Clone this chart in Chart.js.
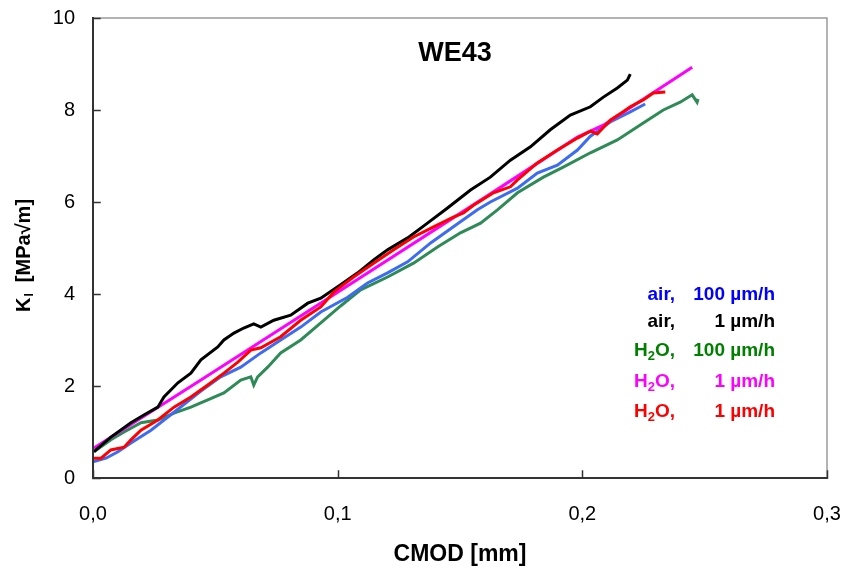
<!DOCTYPE html>
<html>
<head>
<meta charset="utf-8">
<script src="https://cdn.jsdelivr.net/npm/chart.js@4.4.0/dist/chart.umd.min.js"></script>
<style>
  html, body { margin: 0; padding: 0; background: #fff; }
  #wrap { width: 845px; height: 568px; position: relative; }
</style>
</head>
<body>
<div id="wrap"><canvas id="c"></canvas></div>
<script>
// CMOD [mm] vs K_I [MPa*sqrt(m)]
const blueX = [0.0, 0.0053, 0.0102, 0.0155, 0.0237, 0.0331, 0.0441, 0.0522, 0.0604, 0.0686, 0.0767, 0.0849, 0.0931, 0.1041, 0.1122, 0.1204, 0.1286, 0.138, 0.1473, 0.1571, 0.1624, 0.1735, 0.1816, 0.1898, 0.198, 0.2033, 0.2114, 0.2196, 0.2257];
const blueY = [0.35, 0.43, 0.57, 0.76, 1.04, 1.43, 1.89, 2.20, 2.41, 2.72, 3.0, 3.28, 3.61, 3.93, 4.24, 4.46, 4.70, 5.11, 5.46, 5.83, 6.0, 6.30, 6.63, 6.80, 7.13, 7.43, 7.74, 7.96, 8.13];

const blackX = [0.0004, 0.0012, 0.0073, 0.0155, 0.0208, 0.0265, 0.029, 0.0347, 0.040, 0.0441, 0.051, 0.0535, 0.0576, 0.0616, 0.0657, 0.0686, 0.0739, 0.0808, 0.0878, 0.0931, 0.1012, 0.1082, 0.1147, 0.1204, 0.1286, 0.1367, 0.1449, 0.1543, 0.1624, 0.1706, 0.1788, 0.1869, 0.1951, 0.2033, 0.2086, 0.2143, 0.2184, 0.2196];
const blackY = [0.57, 0.61, 0.89, 1.20, 1.37, 1.54, 1.76, 2.07, 2.28, 2.57, 2.85, 3.0, 3.15, 3.26, 3.35, 3.28, 3.43, 3.54, 3.80, 3.91, 4.20, 4.46, 4.74, 4.96, 5.22, 5.54, 5.87, 6.26, 6.54, 6.91, 7.20, 7.57, 7.89, 8.07, 8.28, 8.48, 8.65, 8.78];

const greenX = [0.0004, 0.0073, 0.0127, 0.0196, 0.0265, 0.0331, 0.040, 0.0469, 0.0535, 0.0604, 0.0645, 0.0657, 0.0673, 0.0714, 0.0767, 0.0849, 0.0931, 0.1012, 0.1094, 0.1204, 0.131, 0.1408, 0.1502, 0.1584, 0.1653, 0.1735, 0.1841, 0.1922, 0.2033, 0.2143, 0.2249, 0.2331, 0.24, 0.2449, 0.2469, 0.2473];
const greenY = [0.57, 0.83, 1.00, 1.20, 1.26, 1.41, 1.54, 1.70, 1.85, 2.13, 2.20, 2.02, 2.20, 2.41, 2.72, 3.0, 3.37, 3.74, 4.09, 4.37, 4.67, 5.02, 5.33, 5.54, 5.83, 6.20, 6.54, 6.76, 7.07, 7.35, 7.72, 8.0, 8.17, 8.33, 8.17, 8.24];

const magentaX = [0.0004, 0.0441, 0.1, 0.1637, 0.198, 0.2086, 0.2449];
const magentaY = [0.65, 2.13, 4.04, 6.22, 7.41, 7.67, 8.93];

const redX = [0.0004, 0.0033, 0.0073, 0.0127, 0.0155, 0.0196, 0.0265, 0.0331, 0.04, 0.0469, 0.0535, 0.0592, 0.0633, 0.0645, 0.0686, 0.0767, 0.0849, 0.0931, 0.0984, 0.1065, 0.1147, 0.1229, 0.131, 0.1392, 0.1473, 0.1514, 0.1555, 0.1637, 0.1706, 0.1735, 0.1816, 0.1898, 0.198, 0.2033, 0.2061, 0.2114, 0.2167, 0.2196, 0.2249, 0.229, 0.2339];
const redY = [0.43, 0.43, 0.61, 0.67, 0.83, 1.04, 1.26, 1.54, 1.76, 2.02, 2.28, 2.52, 2.72, 2.78, 2.83, 3.07, 3.43, 3.72, 4.04, 4.37, 4.67, 4.96, 5.24, 5.46, 5.67, 5.76, 5.93, 6.20, 6.33, 6.48, 6.85, 7.13, 7.39, 7.54, 7.48, 7.78, 7.96, 8.07, 8.22, 8.37, 8.39];

const xTicks = [0, 0.1, 0.2, 0.3];
const yTicks = [0, 2, 4, 6, 8, 10];

const FONT = "'Liberation Sans', Arial, sans-serif";

function pts(xs, ys) {
  return xs.map((x, i) => ({ x: x, y: ys[i] }));
}

function line(label, xs, ys, color) {
  return {
    label: label,
    data: pts(xs, ys),
    borderColor: color,
    backgroundColor: color,
    borderWidth: 3,
    pointRadius: 0,
    showLine: true,
    tension: 0,
    fill: false
  };
}

// frame, tick labels, titles and legend text, drawn after the chart
const extras = {
  id: 'extras',
  afterDraw(chart) {
    const ctx = chart.ctx;
    const a = chart.chartArea;
    const xs = chart.scales.x, ys = chart.scales.y;
    ctx.save();

    // frame
    ctx.lineCap = 'square';
    ctx.strokeStyle = '#9a9a9a';
    ctx.lineWidth = 1.5;
    ctx.beginPath();
    ctx.moveTo(a.left, a.top); ctx.lineTo(a.right, a.top); ctx.lineTo(a.right, a.bottom);
    ctx.stroke();
    ctx.strokeStyle = '#333';
    ctx.lineWidth = 2;
    ctx.beginPath();
    ctx.moveTo(a.left, a.top); ctx.lineTo(a.left, a.bottom); ctx.lineTo(a.right, a.bottom);
    ctx.stroke();

    // inside ticks
    ctx.lineWidth = 1.5;
    ctx.beginPath();
    yTicks.forEach(v => {
      const p = Math.round(ys.getPixelForValue(v)) + 0.5;
      ctx.moveTo(a.left, p); ctx.lineTo(a.left + 7, p);
    });
    xTicks.forEach(v => {
      const p = Math.round(xs.getPixelForValue(v)) + 0.5;
      ctx.moveTo(p, a.bottom); ctx.lineTo(p, a.bottom - 7);
    });
    ctx.stroke();

    // tick labels
    ctx.fillStyle = '#000';
    ctx.font = '20px ' + FONT;
    ctx.textBaseline = 'middle';
    ctx.textAlign = 'right';
    yTicks.forEach(v => {
      ctx.fillText(String(v), a.left - 18, ys.getPixelForValue(v));
    });
    ctx.textAlign = 'center';
    xTicks.forEach(v => {
      ctx.fillText(v.toFixed(1).replace('.', ','), xs.getPixelForValue(v), a.bottom + 36);
    });

    // chart title
    ctx.font = 'bold 27px ' + FONT;
    ctx.fillText('WE43', 455, 54);

    // x axis title
    ctx.font = 'bold 23px ' + FONT;
    ctx.fillText('CMOD [mm]', (a.left + a.right) / 2, 555);

    // y axis title with subscript
    ctx.save();
    ctx.translate(23, 256);
    ctx.rotate(-Math.PI / 2);
    ctx.textAlign = 'left';
    ctx.textBaseline = 'alphabetic';
    const k = 'K', rest = '  [MPa\u221Am]';
    ctx.font = 'bold 20px ' + FONT;
    const wK = ctx.measureText(k).width;
    const wR = ctx.measureText(rest).width;
    ctx.font = 'bold 12px ' + FONT;
    const wI = ctx.measureText('I').width;
    let x0 = -(wK + wI + wR) / 2;
    ctx.font = 'bold 20px ' + FONT;
    ctx.fillText(k, x0, 7);
    ctx.font = 'bold 12px ' + FONT;
    ctx.fillText('I', x0 + wK + 1, 10);
    ctx.font = 'bold 20px ' + FONT;
    ctx.fillText(rest, x0 + wK + wI + 1, 7);
    ctx.restore();

    // legend text
    const rows = [
      { name: 'air,', sub: false, val: '100 \u00B5m/h', color: '#0000ff', y: 295 },
      { name: 'air,', sub: false, val: '1 \u00B5m/h', color: '#000000', y: 322 },
      { name: 'H2O,', sub: true, val: '100 \u00B5m/h', color: '#008000', y: 351 },
      { name: 'H2O,', sub: true, val: '1 \u00B5m/h', color: '#ff00ff', y: 382 },
      { name: 'H2O,', sub: true, val: '1 \u00B5m/h', color: '#ff0000', y: 412 }
    ];
    ctx.textBaseline = 'middle';
    rows.forEach(r => {
      ctx.fillStyle = r.color;
      ctx.font = 'bold 19px ' + FONT;
      ctx.textAlign = 'right';
      ctx.fillText(r.val, 775, r.y);
      if (!r.sub) {
        ctx.fillText(r.name, 675, r.y);
      } else {
        ctx.textAlign = 'left';
        const wH = ctx.measureText('H').width;
        const wO = ctx.measureText('O,').width;
        ctx.font = 'bold 13px ' + FONT;
        const w2 = ctx.measureText('2').width;
        let x = 675 - wH - w2 - wO;
        ctx.font = 'bold 19px ' + FONT;
        ctx.fillText('H', x, r.y);
        ctx.font = 'bold 13px ' + FONT;
        ctx.fillText('2', x + wH, r.y + 5);
        ctx.font = 'bold 19px ' + FONT;
        ctx.fillText('O,', x + wH + w2, r.y);
      }
    });

    ctx.restore();
  }
};

new Chart(document.getElementById('c'), {
  type: 'scatter',
  data: {
    datasets: [
      line('H2O, 1 \u00B5m/h (2)', redX, redY, '#ff0000'),
      line('air, 1 \u00B5m/h', blackX, blackY, '#000000'),
      line('H2O, 1 \u00B5m/h', magentaX, magentaY, '#ff00ff'),
      line('air, 100 \u00B5m/h', blueX, blueY, '#3d6cf0'),
      line('H2O, 100 \u00B5m/h', greenX, greenY, '#2e8b57')
    ]
  },
  options: {
    responsive: true,
    maintainAspectRatio: false,
    animation: false,
    layout: { padding: { left: 0, right: 18, top: 18, bottom: 0 } },
    plugins: {
      legend: { display: false },
      tooltip: { enabled: false }
    },
    scales: {
      x: {
        type: 'linear',
        min: 0,
        max: 0.3,
        afterFit: s => { s.height = 90; },
        grid: { drawOnChartArea: false, drawTicks: false },
        border: { display: false },
        ticks: { display: false }
      },
      y: {
        type: 'linear',
        min: 0,
        max: 10,
        afterFit: s => { s.width = 93; },
        grid: { drawOnChartArea: false, drawTicks: false },
        border: { display: false },
        ticks: { display: false }
      }
    }
  },
  plugins: [extras]
});
</script>
</body>
</html>
